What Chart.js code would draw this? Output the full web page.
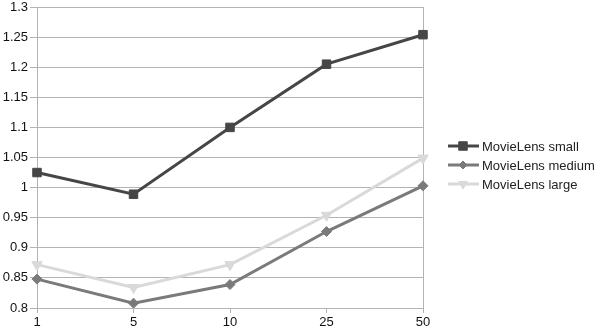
<!DOCTYPE html>
<html>
<head>
<meta charset="UTF-8">
<script src="https://cdn.jsdelivr.net/npm/chart.js"></script>
<style>
  html, body { margin: 0; padding: 0; background: #fff; }
  #wrap { width: 598px; height: 330px; position: relative; }
</style>
</head>
<body>
<div id="wrap"><canvas id="chart"></canvas></div>
<script>
  const categories = ['1', '5', '10', '25', '50'];
  const smallValues = [1.025, 0.989, 1.100, 1.205, 1.254];
  const mediumValues = [0.848, 0.808, 0.839, 0.927, 1.003];
  const largeValues = [0.872, 0.834, 0.872, 0.954, 1.049];
  const yTicks = [0.8, 0.85, 0.9, 0.95, 1, 1.05, 1.1, 1.15, 1.2, 1.25, 1.3];

  const FONT = 'Liberation Sans, Arial, sans-serif';

  // legend drawn by hand: line + marker, like the spreadsheet export
  const sideLegend = {
    id: 'sideLegend',
    afterDraw(chart) {
      const ctx = chart.ctx;
      const rows = [146, 165, 184];
      chart.data.datasets.forEach((ds, i) => {
        const y = rows[i];
        ctx.save();
        ctx.strokeStyle = ds.borderColor;
        ctx.lineWidth = 3;
        ctx.beginPath();
        ctx.moveTo(448, y);
        ctx.lineTo(479, y);
        ctx.stroke();
        ctx.fillStyle = ds.borderColor;
        ctx.lineWidth = 1;
        Chart.helpers.drawPoint(ctx, {
          pointStyle: ds.pointStyle,
          rotation: ds.pointRotation || 0,
          radius: ds.legendRadius,
          borderWidth: 1
        }, 463, y);
        ctx.fillStyle = '#222';
        ctx.font = '13px ' + FONT;
        ctx.textBaseline = 'middle';
        ctx.fillText(ds.label, 482, y + 1);
        ctx.restore();
      });
    }
  };

  new Chart(document.getElementById('chart'), {
    type: 'line',
    data: {
      labels: categories,
      datasets: [
        {
          label: 'MovieLens small',
          data: smallValues,
          borderColor: '#464646',
          backgroundColor: '#464646',
          borderWidth: 3,
          pointStyle: 'rect',
          pointRadius: 6,
          legendRadius: 6,
          pointBorderWidth: 1
        },
        {
          label: 'MovieLens medium',
          data: mediumValues,
          borderColor: '#7a7a7a',
          backgroundColor: '#7a7a7a',
          borderWidth: 3,
          pointStyle: 'rectRot',
          pointRadius: 5,
          legendRadius: 4,
          pointBorderWidth: 1
        },
        {
          label: 'MovieLens large',
          data: largeValues,
          borderColor: '#d9d9d9',
          backgroundColor: '#d9d9d9',
          borderWidth: 3,
          pointStyle: 'triangle',
          pointRotation: 180,
          pointRadius: 6,
          legendRadius: 5,
          pointBorderWidth: 1
        }
      ]
    },
    options: {
      responsive: true,
      maintainAspectRatio: false,
      animation: false,
      layout: { padding: { top: 2, right: 175, left: 0, bottom: 0 } },
      plugins: {
        legend: { display: false },
        tooltip: { enabled: false }
      },
      elements: { line: { tension: 0 } },
      scales: {
        x: {
          offset: false,
          border: { display: false },
          grid: {
            drawOnChartArea: true,
            color: ctx => ctx.index === categories.length - 1 ? '#b3b3b3' : 'rgba(0,0,0,0)',
            tickColor: '#b3b3b3',
            tickLength: 5
          },
          ticks: {
            color: '#111',
            font: { family: FONT, size: 13 },
            padding: 2,
            maxRotation: 0
          },
          afterFit: s => { s.height = 22; s.paddingLeft = 0; s.paddingRight = 0; }
        },
        y: {
          min: 0.8,
          max: 1.3,
          border: { color: '#b3b3b3' },
          afterBuildTicks: s => { s.ticks = yTicks.map(v => ({ value: v })); },
          grid: {
            color: '#b3b3b3',
            tickLength: 7
          },
          ticks: {
            color: '#111',
            font: { family: FONT, size: 13 },
            padding: 2,
            callback: v => String(+v.toFixed(2))
          },
          afterFit: s => { s.width = 37; s.paddingTop = 0; s.paddingBottom = 0; }
        }
      }
    },
    plugins: [sideLegend]
  });
</script>
</body>
</html>
